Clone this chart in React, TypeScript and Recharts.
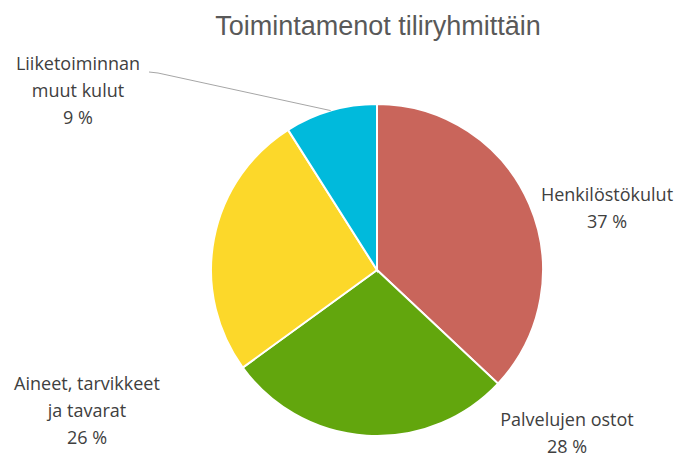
import { PieChart, Pie, Cell } from 'recharts'

const categories = ['Henkilöstökulut', 'Palvelujen ostot', 'Aineet, tarvikkeet ja tavarat', 'Liiketoiminnan muut kulut']
const shares = [37, 28, 26, 9]
const labelLines = [
  ['Henkilöstökulut', '37 %'],
  ['Palvelujen ostot', '28 %'],
  ['Aineet, tarvikkeet', 'ja tavarat', '26 %'],
  ['Liiketoiminnan', 'muut kulut', '9 %'],
]
const colors = ['#C9655B', '#62A60D', '#FCD82A', '#00BADC']

// label block centers, relative to the pie center
const labelOffsets = [
  { dx: 230, dy: -63 },
  { dx: 190, dy: 162 },
  { dx: -290, dy: 140 },
  { dx: -299, dy: -180 },
]

const data = categories.map((name, i) => ({ name, value: shares[i] }))

const renderLabel = (props: any) => {
  const { cx, cy, midAngle, outerRadius, index } = props
  const off = labelOffsets[index]
  const lines = labelLines[index]
  const lx = cx + off.dx
  const ly = cy + off.dy
  const lh = 27
  const startY = ly - ((lines.length - 1) * lh) / 2
  const rad = (Math.PI / 180) * midAngle
  const ex = cx + outerRadius * Math.cos(rad)
  const ey = cy - outerRadius * Math.sin(rad)
  return (
    <g>
      {index === 3 && (
        <polyline
          points={`${lx + 71},${startY + 9} ${lx + 80},${startY + 10} ${ex},${ey}`}
          fill="none"
          stroke="#A6A6A6"
          strokeWidth={1}
        />
      )}
      {lines.map((t, j) => (
        <text
          key={j}
          x={lx}
          y={startY + j * lh}
          textAnchor="middle"
          dominantBaseline="central"
          fill="#404040"
          fontSize={18}
          fontFamily="Open Sans"
        >
          {t}
        </text>
      ))}
    </g>
  )
}

export default function App() {
  return (
    <div style={{ position: 'absolute', left: 0, top: 0, width: 681, height: 458, background: '#fff' }}>
      <PieChart width={681} height={458} margin={{ top: 0, right: 0, bottom: 0, left: 0 }}>
        <text
          x={378}
          y={26}
          textAnchor="middle"
          dominantBaseline="central"
          fill="#595959"
          fontSize={27}
          fontFamily="Liberation Sans, Arial"
        >
          Toimintamenot tiliryhmittäin
        </text>
        <Pie
          data={data}
          dataKey="value"
          nameKey="name"
          cx={377}
          cy={270}
          outerRadius={166}
          startAngle={90}
          endAngle={-270}
          stroke="#fff"
          strokeWidth={2}
          label={renderLabel}
          labelLine={false}
          isAnimationActive={false}
        >
          {data.map((d, i) => (
            <Cell key={d.name} fill={colors[i]} />
          ))}
        </Pie>
      </PieChart>
    </div>
  )
}
